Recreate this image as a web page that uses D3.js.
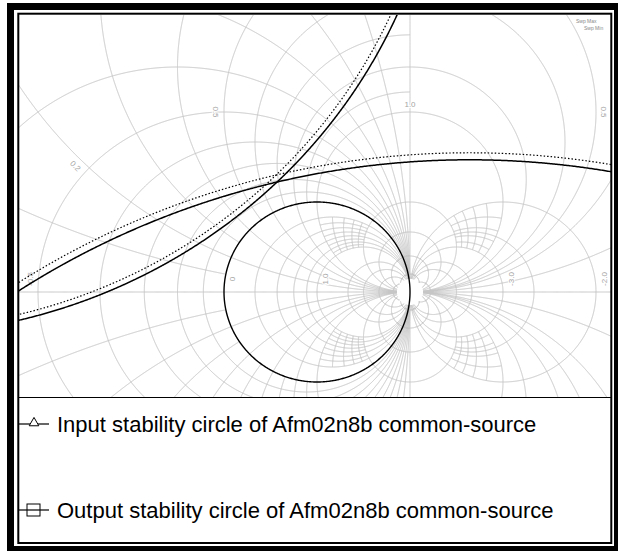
<!DOCTYPE html>
<html>
<head>
<meta charset="utf-8">
<script src="https://cdn.jsdelivr.net/npm/d3@7"></script>
<style>
  body { margin: 0; background: #fff; }
  svg { display: block; }
</style>
</head>
<body>
<svg id="chart" width="618" height="551"></svg>
<script>
// ---- Smith grid values (normalised impedance z = r + jx) ----
// constant-resistance circles inside |gamma| = 1
const resistanceInner = [0.2, 0.4, 0.6, 0.8, 1, 2, 3, 5, 10];
// negative-resistance circles outside |gamma| = 1
const resistanceOuter = [-0.1, -0.2, -0.3, -0.4, -0.5, -0.6, -0.7, -0.8, -0.9,
                         -1, -2, -2.5, -3, -4, -5, -10];
// constant-reactance arcs, inner part (r >= 0)
const reactanceInner = [0.2, 0.4, 0.6, 0.8, 1, 2, 3, 5, 10,
                        -0.2, -0.4, -0.6, -0.8, -1, -2, -3, -5, -10];
// constant-reactance arcs, outer part (r <= 0)
const reactanceOuter = [0.2, 0.4, 0.5, 0.6, 0.8, 1, 2, 3, 5, 10,
                        -0.2, -0.4, -0.5, -0.6, -0.8, -1, -2, -3, -5, -10];
// extra outer reactance arcs, only where -1 <= r <= 0
const reactanceOuterLeft = [0.1, 0.3, 0.7, 0.9, -0.1, -0.3, -0.7, -0.9];
// short fine arcs: reactance value drawn over a resistance span
const fineReactance = [1.2, 1.4, 1.6, 1.8, -1.2, -1.4, -1.6, -1.8];
const fineReactSpans = [[0.2, 1], [-3, -2]];
// short fine arcs: resistance value drawn over a reactance span
const fineResistance = [0.3, 0.5, 0.7, 0.9, -2.2, -2.4, -2.6, -2.8];
const fineResistSpan = [1, 2];

// resistance labels on the real axis
const axisLabelText = ["0", "1.0", "-3.0", "-2.0", "-0.5"];
const axisLabelR    = [0, 1, -3, -2, -0.5];
// reactance labels: text, reactance value, angle on its circle (deg, gamma plane)
const arcLabelText  = ["0.2", "0.5", "1.0", "0.5"];
const arcLabelX     = [0.2, 0.5, 1, 0.5];
const arcLabelAngle = [225, 180, 90, 0];

// ---- stability circles in the reflection-coefficient plane ----
const seriesNames = [
  "Input stability circle of Afm02n8b common-source",
  "Output stability circle of Afm02n8b common-source"
];
const seriesMarkers = ["triangle", "square"];
// solid trace
const centreRe = [-4.613, 1.641];
const centreIm = [5.506, -7.331];
const radius   = [5.988, 8.800];
// dotted companion trace
const centreRe2 = [-4.613, 1.641];
const centreIm2 = [5.506, -7.331];
const radius2   = [5.925, 8.878];

const svg = d3.select("#chart");
const W = 618, H = 551;

// plot box inside the inner frame
const box = { left: 19, top: 15, right: 611, bottom: 397 };

const x = d3.scaleLinear().domain([-1, 1]).range([224, 410]);
const y = d3.scaleLinear().domain([-1, 1]).range([382, 202]);

svg.append("rect").attr("width", W).attr("height", H).attr("fill", "#fff");

svg.append("defs").append("clipPath").attr("id", "plotClip")
  .append("rect")
  .attr("x", box.left).attr("y", box.top)
  .attr("width", box.right - box.left).attr("height", box.bottom - box.top);

const plot = svg.append("g").attr("clip-path", "url(#plotClip)");

function circlePts(cu, cv, rad, n) {
  n = n || 2000;
  return d3.range(n + 1).map(i => {
    const t = 2 * Math.PI * i / n;
    return [cu + rad * Math.cos(t), cv + rad * Math.sin(t)];
  });
}
// gamma = (z - 1) / (z + 1)
function zToGamma(r, xv) {
  const nr = r - 1, ni = xv, dr = r + 1, di = xv;
  const den = dr * dr + di * di;
  return [(nr * dr + ni * di) / den, (ni * dr - nr * di) / den];
}

const openX = x(1), openY = y(0);
const gapPx = 13;
function visible(p) {
  const px = x(p[0]), py = y(p[1]);
  if (!isFinite(px) || !isFinite(py)) return false;
  if (px < -60 || px > W + 60 || py < -60 || py > H + 60) return false;
  return Math.hypot(px - openX, py - openY) > gapPx;
}
const mag2 = p => p[0] * p[0] + p[1] * p[1];
const mkLine = test => d3.line().defined(p => visible(p) && test(p)).x(d => x(d[0])).y(d => y(d[1]));
const lineAll  = mkLine(() => true);
const lineIn   = mkLine(p => mag2(p) <= 1.0005);
const lineOut  = mkLine(p => mag2(p) >= 0.9995);
const lineOutL = mkLine(p => mag2(p) >= 0.9995 && p[0] <= 1);

const grid = plot.append("g")
  .attr("fill", "none")
  .attr("stroke", "#c6c6c6")
  .attr("stroke-width", 1);

// real axis
grid.append("path").attr("d", lineAll(d3.range(-6, 6.001, 0.01).map(u => [u, 0])));

// constant-resistance circles
resistanceInner.concat(resistanceOuter).forEach(r => {
  let pts;
  if (r === -1) {
    pts = d3.range(-8, 8.001, 0.005).map(v => [1, v]);
  } else {
    const c = r / (1 + r), rad = Math.abs(1 / (1 + r));
    pts = circlePts(c, 0, rad, Math.max(1200, Math.round(rad * 1200)));
  }
  grid.append("path").attr("d", lineAll(pts));
});

// constant-reactance arcs, split at the unit circle
function reactPts(xv) {
  const rad = Math.abs(1 / xv);
  return circlePts(1, 1 / xv, rad, Math.max(1500, Math.round(rad * 1500)));
}
reactanceInner.forEach(xv => grid.append("path").attr("d", lineIn(reactPts(xv))));
reactanceOuter.forEach(xv => grid.append("path").attr("d", lineOut(reactPts(xv))));
reactanceOuterLeft.forEach(xv => grid.append("path").attr("d", lineOutL(reactPts(xv))));

// fine arcs
fineReactance.forEach(xv => {
  fineReactSpans.forEach(sp => {
    const pts = d3.range(sp[0], sp[1] + 1e-9, (sp[1] - sp[0]) / 200).map(r => zToGamma(r, xv));
    grid.append("path").attr("d", lineAll(pts));
  });
});
fineResistance.forEach(r => {
  [1, -1].forEach(sgn => {
    const pts = d3.range(fineResistSpan[0], fineResistSpan[1] + 1e-9, 0.005).map(xv => zToGamma(r, sgn * xv));
    grid.append("path").attr("d", lineAll(pts));
  });
});

// grid labels
const labels = plot.append("g")
  .attr("font-family", "Liberation Sans, Arial, sans-serif")
  .attr("font-size", 8)
  .attr("fill", "#a4a4a4")
  .attr("text-anchor", "middle");
function addLabel(t, px, py, rot) {
  labels.append("text")
    .attr("transform", `translate(${px},${py}) rotate(${rot})`)
    .attr("dy", "0.35em")
    .attr("stroke", "#fff").attr("stroke-width", 2).attr("paint-order", "stroke")
    .text(t);
}
axisLabelText.forEach((t, i) => {
  const g = zToGamma(axisLabelR[i], 0);
  const side = g[0] < -1.01 ? -1 : 1;
  addLabel(t, x(g[0]) + side * 8, y(0) - 13, -90);
});
arcLabelText.forEach((t, i) => {
  const xv = arcLabelX[i], rad = 1 / xv, a = arcLabelAngle[i] * Math.PI / 180;
  const gu = 1 + rad * Math.cos(a), gv = 1 / xv + rad * Math.sin(a);
  const px = x(gu) + 8 * Math.cos(a), py = y(gv) - 8 * Math.sin(a);
  let rot = -(arcLabelAngle[i] + 90);
  rot = ((rot % 180) + 180) % 180;
  if (rot > 90) rot -= 180;
  addLabel(t, px, py, rot);
});

// Smith chart boundary |gamma| = 1
plot.append("path")
  .attr("d", d3.line().x(d => x(d[0])).y(d => y(d[1]))(circlePts(0, 0, 1, 720)))
  .attr("fill", "none").attr("stroke", "#000").attr("stroke-width", 1.4);

// stability circles
const traces = plot.append("g").attr("fill", "none").attr("stroke", "#000");
const traceLine = d3.line().x(d => x(d[0])).y(d => y(d[1]));
seriesNames.forEach((name, i) => {
  traces.append("path")
    .attr("d", traceLine(circlePts(centreRe[i], centreIm[i], radius[i], 4000)))
    .attr("stroke-width", 1.5);
  traces.append("path")
    .attr("d", traceLine(circlePts(centreRe2[i], centreIm2[i], radius2[i], 4000)))
    .attr("stroke-width", 1.2)
    .attr("stroke-dasharray", "1.5,2");
});

// sweep note, top right
const note = plot.append("g")
  .attr("font-family", "Liberation Sans, Arial, sans-serif")
  .attr("font-size", 5).attr("fill", "#888");
note.append("text").attr("x", 576).attr("y", 23).text("Swp Max");
note.append("text").attr("x", 584).attr("y", 30).text("Swp Min");

// frame: thick outer band, thin inner rule
svg.append("rect").attr("x", 10.5).attr("y", 6.5).attr("width", 607).attr("height", 543)
  .attr("fill", "none").attr("stroke", "#000").attr("stroke-width", 7);
svg.append("rect").attr("x", 18.3).attr("y", 13.7).attr("width", 593).attr("height", 529.3)
  .attr("fill", "none").attr("stroke", "#000").attr("stroke-width", 2);
svg.append("line").attr("x1", 18).attr("x2", 611).attr("y1", 397.5).attr("y2", 397.5)
  .attr("stroke", "#000").attr("stroke-width", 1.2);

// legend
const legend = svg.append("g")
  .attr("font-family", "Liberation Sans, Arial, sans-serif")
  .attr("font-size", 22).attr("fill", "#000");
const legendY = [424, 510];
seriesNames.forEach((name, i) => {
  const ly = legendY[i];
  legend.append("line").attr("x1", 18).attr("x2", 49).attr("y1", ly).attr("y2", ly)
    .attr("stroke", "#000").attr("stroke-width", 1.2);
  if (seriesMarkers[i] === "triangle") {
    legend.append("path")
      .attr("d", d3.symbol(d3.symbolTriangle, 40)())
      .attr("transform", `translate(34,${ly - 1})`)
      .attr("fill", "#fff").attr("stroke", "#000").attr("stroke-width", 1);
  } else {
    legend.append("rect").attr("x", 27).attr("y", ly - 6).attr("width", 13).attr("height", 12)
      .attr("fill", "none").attr("stroke", "#000").attr("stroke-width", 1);
  }
  legend.append("text").attr("x", 57).attr("y", ly).attr("dy", "0.35em").text(name);
});
</script>
</body>
</html>
